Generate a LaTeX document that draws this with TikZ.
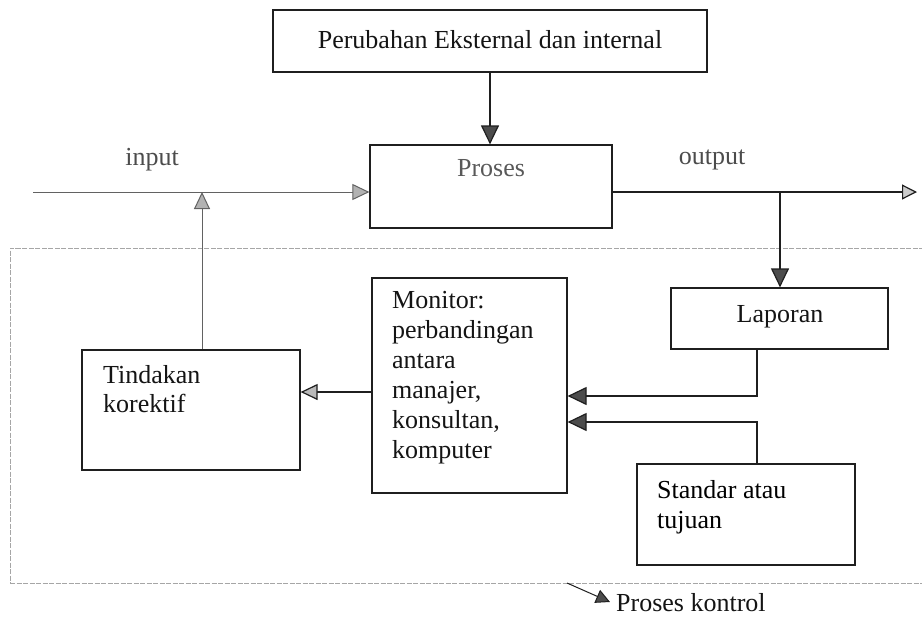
\documentclass[tikz,border=0pt]{standalone}
\usepackage{fontspec}
\setmainfont{Liberation Serif}
\usetikzlibrary{arrows.meta}
\definecolor{ln}{gray}{0.12}
\definecolor{tip}{gray}{0.3}
\tikzset{
  box/.style={draw=ln, line width=1.2pt, inner sep=0pt},
  txt/.style={inner sep=0pt, text=black!92, font=\fontsize{26}{29}\selectfont},
  mtxt/.style={txt, align=left, anchor=north west},
  conn/.style={draw=ln, line width=1.2pt, -{Triangle[length=19pt,width=18pt,fill=tip]}},
  lconn/.style={draw=ln!70, line width=1pt, -{Triangle[length=17pt,width=16pt,fill=gray!60]}},
  outer/.style={draw=gray!70, line width=0.9pt, dash pattern=on 5pt off 1.5pt},
}
\begin{document}
\begin{tikzpicture}[x=1pt,y=-1pt]
\useasboundingbox (0,0) rectangle (922,619);
% boxes
\node[box, minimum width=434pt, minimum height=62pt] (top) at (490,41) {};
\node[txt] (topT) at (490,40) {Perubahan Eksternal dan internal};
\node[box, minimum width=242pt, minimum height=83pt] (proses) at (491,186.5) {};
\node[txt, text=black!65] (prosesT) at (491,168) {Proses};
\node[txt, text=black!70] (inT) at (152,160) {input};
\node[txt, text=black!70] (outT) at (712,160) {output};
% outer control region
\node[outer, minimum width=920pt, minimum height=335pt, inner sep=0pt] (ctrl) at (470,415.5) {};
\node[box, minimum width=218pt, minimum height=120pt] (tind) at (191,410) {};
\node[mtxt] (tindT) at (103,365) {Tindakan\\korektif};
\node[box, minimum width=195pt, minimum height=215pt] (mon) at (469.5,385.5) {};
\node[mtxt, font=\fontsize{26}{30}\selectfont] (monT) at (392,291) {Monitor:\\perbandingan\\antara\\manajer,\\konsultan,\\komputer};
\node[box, minimum width=217pt, minimum height=61pt] (lap) at (779.5,318.5) {};
\node[txt] (lapT) at (780,317) {Laporan};
\node[box, minimum width=218pt, minimum height=101pt] (std) at (746,514.5) {};
\node[mtxt, font=\fontsize{26}{30}\selectfont, text=black] (stdT) at (657,480) {Standar atau\\tujuan};
\node[txt, anchor=west] (pkT) at (616,603) {Proses kontrol};
% coordinates
\coordinate (inL) at (33,192);
\coordinate (outR) at (917,192);
\coordinate (outJ) at (780,192);
\coordinate (tUp) at (202,192);
\coordinate (y392) at (0,392);
\coordinate (c1) at (757,396);
\coordinate (c2) at (757,422);
\coordinate (pkS) at (567,583);
\coordinate (pkE) at (610,602);
% connectors
\draw[conn] (top.south) -- (top.south |- proses.north);
\draw[lconn] (inL) -- (inL -| proses.west);
\draw[conn, -{Triangle[length=15pt,width=15pt,fill=gray!40]}] (proses.east |- outR) -- (outR);
\draw[conn] (outJ) -- (outJ |- lap.north);
\draw[lconn] (tUp |- tind.north) -- (tUp);
\draw[conn, -{Triangle[length=17pt,width=16pt,fill=gray!55]}] (mon.west |- y392) -- (tind.east |- y392);
\draw[conn] (lap.south -| c1) -- (c1) -- (c1 -| mon.east);
\draw[conn] (std.north -| c2) -- (c2) -- (c2 -| mon.east);
\draw[draw=ln, line width=1pt, -{Triangle[length=14pt,width=14pt,fill=tip]}] (pkS) -- (pkE);
\end{tikzpicture}
\end{document}
